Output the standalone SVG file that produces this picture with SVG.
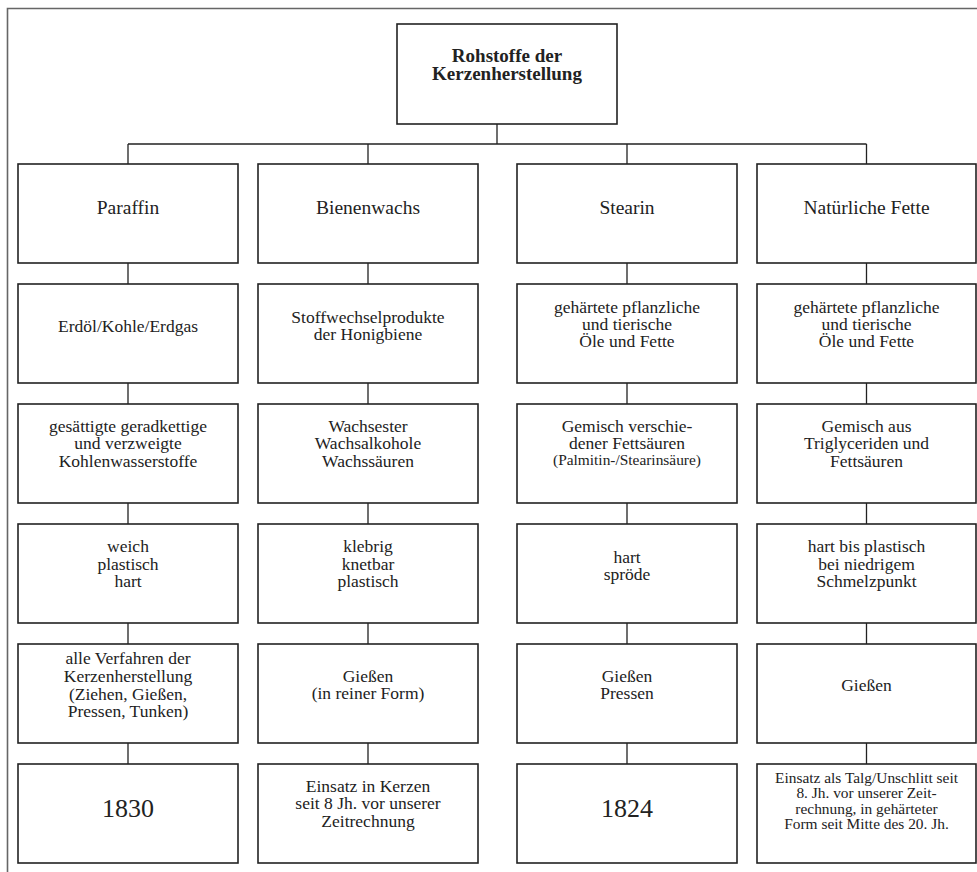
<svg xmlns="http://www.w3.org/2000/svg" width="977" height="872" viewBox="0 0 977 872">
<style>
.frame{fill:none;stroke:#666;stroke-width:1.6}
.box{fill:#fff;stroke:#222;stroke-width:1.6}
.con{fill:none;stroke:#222;stroke-width:1.3}
text{font-family:"Liberation Serif","Times New Roman",serif;fill:#222;text-anchor:middle}
.t{font-size:17.5px}
.h{font-size:19.5px}
.b{font-size:19px;font-weight:bold}
.y{font-size:26px}
.s{font-size:15.4px}
</style>
<rect width="977" height="872" fill="#fff"/>
<path class="frame" d="M7.5,872 V8.5 H977"/>
<g id="connectors">
<path class="con" d="M497,124 V144 M128,144 H866.5 M128,144 V164 M368,144 V164 M627,144 V164 M866.5,144 V164"/>
<path class="con" d="M128,263 V284 M128,383 V404 M128,503 V524 M128,623 V644 M128,743 V764"/>
<path class="con" d="M368,263 V284 M368,383 V404 M368,503 V524 M368,623 V644 M368,743 V764"/>
<path class="con" d="M627,263 V284 M627,383 V404 M627,503 V524 M627,623 V644 M627,743 V764"/>
<path class="con" d="M866.5,263 V284 M866.5,383 V404 M866.5,503 V524 M866.5,623 V644 M866.5,743 V764"/>
</g>
<g id="root"><rect class="box" x="397" y="24" width="220" height="100"/><text class="b" x="507" y="62">Rohstoffe der</text><text class="b" x="507" y="80">Kerzenherstellung</text></g>

<g id="paraffin"><rect class="box" x="18" y="164" width="220" height="99"/><text class="h" x="128" y="214">Paraffin</text></g>
<g id="bienenwachs"><rect class="box" x="258" y="164" width="220" height="99"/><text class="h" x="368" y="214">Bienenwachs</text></g>
<g id="stearin"><rect class="box" x="517" y="164" width="220" height="99"/><text class="h" x="627" y="214">Stearin</text></g>
<g id="fette"><rect class="box" x="757" y="164" width="219" height="99"/><text class="h" x="866.5" y="214">Natürliche Fette</text></g>

<g id="paraffin-quelle"><rect class="box" x="18" y="284" width="220" height="99"/><text class="t" x="128" y="332">Erdöl/Kohle/Erdgas</text></g>
<g id="bienenwachs-quelle"><rect class="box" x="258" y="284" width="220" height="99"/><text class="t" x="368" y="323">Stoffwechselprodukte</text><text class="t" x="368" y="340">der Honigbiene</text></g>
<g id="stearin-quelle"><rect class="box" x="517" y="284" width="220" height="99"/><text class="t" x="627" y="313">gehärtete pflanzliche</text><text class="t" x="627" y="330">und tierische</text><text class="t" x="627" y="347">Öle und Fette</text></g>
<g id="fette-quelle"><rect class="box" x="757" y="284" width="219" height="99"/><text class="t" x="866.5" y="313">gehärtete pflanzliche</text><text class="t" x="866.5" y="330">und tierische</text><text class="t" x="866.5" y="347">Öle und Fette</text></g>

<g id="paraffin-chemie"><rect class="box" x="18" y="404" width="220" height="99"/><text class="t" x="128" y="432">gesättigte geradkettige</text><text class="t" x="128" y="449">und verzweigte</text><text class="t" x="128" y="466.5">Kohlenwasserstoffe</text></g>
<g id="bienenwachs-chemie"><rect class="box" x="258" y="404" width="220" height="99"/><text class="t" x="368" y="432">Wachsester</text><text class="t" x="368" y="449">Wachsalkohole</text><text class="t" x="368" y="466.5">Wachssäuren</text></g>
<g id="stearin-chemie"><rect class="box" x="517" y="404" width="220" height="99"/><text class="t" x="627" y="432">Gemisch verschie-</text><text class="t" x="627" y="449">dener Fettsäuren</text><text class="s" x="627" y="465">(Palmitin-/Stearinsäure)</text></g>
<g id="fette-chemie"><rect class="box" x="757" y="404" width="219" height="99"/><text class="t" x="866.5" y="432">Gemisch aus</text><text class="t" x="866.5" y="449">Triglyceriden und</text><text class="t" x="866.5" y="466.5">Fettsäuren</text></g>

<g id="paraffin-eigenschaft"><rect class="box" x="18" y="524" width="220" height="99"/><text class="t" x="128" y="552">weich</text><text class="t" x="128" y="569.5">plastisch</text><text class="t" x="128" y="587">hart</text></g>
<g id="bienenwachs-eigenschaft"><rect class="box" x="258" y="524" width="220" height="99"/><text class="t" x="368" y="552">klebrig</text><text class="t" x="368" y="569.5">knetbar</text><text class="t" x="368" y="587">plastisch</text></g>
<g id="stearin-eigenschaft"><rect class="box" x="517" y="524" width="220" height="99"/><text class="t" x="627" y="563">hart</text><text class="t" x="627" y="580">spröde</text></g>
<g id="fette-eigenschaft"><rect class="box" x="757" y="524" width="219" height="99"/><text class="t" x="866.5" y="552">hart bis plastisch</text><text class="t" x="866.5" y="569.5">bei niedrigem</text><text class="t" x="866.5" y="587">Schmelzpunkt</text></g>

<g id="paraffin-verfahren"><rect class="box" x="18" y="644" width="220" height="99"/><text class="t" x="128" y="664">alle Verfahren der</text><text class="t" x="128" y="682">Kerzenherstellung</text><text class="t" x="128" y="700">(Ziehen, Gießen,</text><text class="t" x="128" y="717">Pressen, Tunken)</text></g>
<g id="bienenwachs-verfahren"><rect class="box" x="258" y="644" width="220" height="99"/><text class="t" x="368" y="682">Gießen</text><text class="t" x="368" y="699">(in reiner Form)</text></g>
<g id="stearin-verfahren"><rect class="box" x="517" y="644" width="220" height="99"/><text class="t" x="627" y="682">Gießen</text><text class="t" x="627" y="699">Pressen</text></g>
<g id="fette-verfahren"><rect class="box" x="757" y="644" width="219" height="99"/><text class="t" x="866.5" y="691">Gießen</text></g>

<g id="paraffin-jahr"><rect class="box" x="18" y="764" width="220" height="99"/><text class="y" x="128" y="817">1830</text></g>
<g id="bienenwachs-jahr"><rect class="box" x="258" y="764" width="220" height="99"/><text class="t" x="368" y="792">Einsatz in Kerzen</text><text class="t" x="368" y="809">seit 8 Jh. vor unserer</text><text class="t" x="368" y="827">Zeitrechnung</text></g>
<g id="stearin-jahr"><rect class="box" x="517" y="764" width="220" height="99"/><text class="y" x="627" y="817">1824</text></g>
<g id="fette-jahr"><rect class="box" x="757" y="764" width="219" height="99"/><text class="s" x="866.5" y="783">Einsatz als Talg/Unschlitt seit</text><text class="s" x="866.5" y="798">8. Jh. vor unserer Zeit-</text><text class="s" x="866.5" y="814">rechnung, in gehärteter</text><text class="s" x="866.5" y="829">Form seit Mitte des 20. Jh.</text></g>
</svg>
